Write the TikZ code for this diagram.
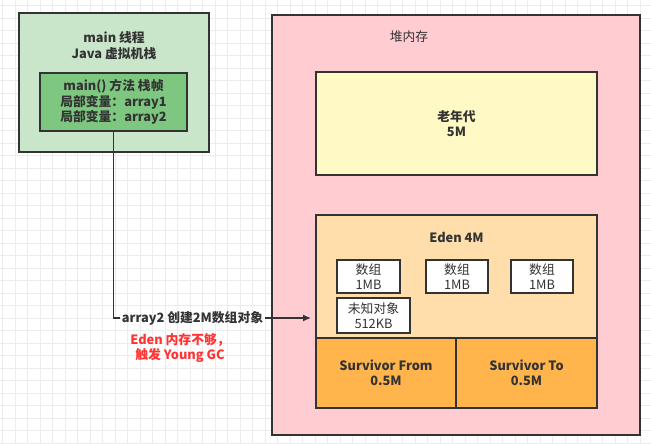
\documentclass[tikz,border=0pt]{standalone}
\usepackage{fontspec}
\setmainfont{Noto Sans CJK SC}
\usetikzlibrary{arrows.meta}
\definecolor{ink}{RGB}{51,51,51}
\definecolor{stackbg}{RGB}{201,230,202}
\definecolor{framebg}{RGB}{126,199,128}
\definecolor{heapbg}{RGB}{255,204,210}
\definecolor{oldbg}{RGB}{255,249,198}
\definecolor{edenbg}{RGB}{255,222,172}
\definecolor{survbg}{RGB}{255,180,76}
\definecolor{alert}{RGB}{255,51,51}
\definecolor{gridc}{RGB}{236,236,236}
\tikzset{
  x=1pt, y=-1pt,
  area/.style={draw=ink, line width=1.3pt, inner sep=0pt},
  txt/.style={text=ink, font=\fontsize{12.8}{15.5}\selectfont\bfseries, align=center, inner sep=0pt},
  small/.style={text=ink, font=\fontsize{12.8}{15.5}\selectfont, align=center, inner sep=0pt},
  objbox/.style={draw=ink, line width=1.3pt, fill=white, inner sep=0pt},
}
\newcommand{\boxat}[6]{\node[area,#6, minimum width={#4-#2}, minimum height={#5-#3}] (#1) at ({(#2+#4)/2},{(#3+#5)/2}) {};}
\begin{document}
\begin{tikzpicture}
\useasboundingbox (0,0) rectangle (651,444);
\fill[white] (0,0) rectangle (651,444);
\foreach \i in {0,...,52} {\draw[gridc, line width=1pt] ({2.7+12.5*\i},0) -- ({2.7+12.5*\i},444);}
\foreach \j in {0,...,35} {\draw[gridc, line width=1pt] (0,{5.8+12.5*\j}) -- (651,{5.8+12.5*\j});}

% JVM stack
\boxat{stack}{19}{13}{209}{152}{fill=stackbg}
\node[txt] (stacklbl) at (114,45.5) {main 线程\\Java 虚拟机栈};
\boxat{frame}{40}{73}{187}{131}{fill=framebg}
\node[txt] (framelbl) at (113.5,102) {main() 方法 栈帧\\局部变量：array1\\局部变量：array2};

% heap
\boxat{heap}{272}{15}{640}{435}{fill=heapbg}
\node[small] (heaplbl) at (409,37) {堆内存};
\boxat{old}{316}{72}{597}{175}{fill=oldbg}
\node[txt] (oldlbl) at (456.5,123.5) {老年代\\5M};
\boxat{eden}{316}{215}{597}{338}{fill=edenbg}
\node[txt] (edenlbl) at (456.5,237) {Eden 4M};
\boxat{from}{316}{338}{456}{408}{fill=survbg}
\node[txt] (fromlbl) at (386,373) {Survivor From\\0.5M};
\boxat{to}{456}{338}{597}{408}{fill=survbg}
\node[txt] (tolbl) at (526.5,373) {Survivor To\\0.5M};

% objects in eden
\node[objbox, minimum width=63, minimum height=33, small] (a1) at (368.5,276.5) {数组\\1MB};
\node[objbox, minimum width=62, minimum height=33, small] (a2) at (457,276.5) {数组\\1MB};
\node[objbox, minimum width=62, minimum height=33, small] (a3) at (542,276.5) {数组\\1MB};
\node[objbox, minimum width=73, minimum height=35, small] (unk) at (373.5,315.5) {未知对象\\512KB};

% connector
\node[txt, inner sep=2pt] (act) at (192.5,318) {array2 创建2M数组对象};
\coordinate (tip) at (311,318);
\draw[ink, line width=1.3pt] (frame.south) |- (act.west);
\draw[ink, line width=1.3pt, -{Latex[length=8pt,width=7pt]}] (act.east) -- (tip);
\node[txt, text=alert] (note) at (180,348) {Eden 内存不够，\\触发 Young GC};
\end{tikzpicture}
\end{document}
